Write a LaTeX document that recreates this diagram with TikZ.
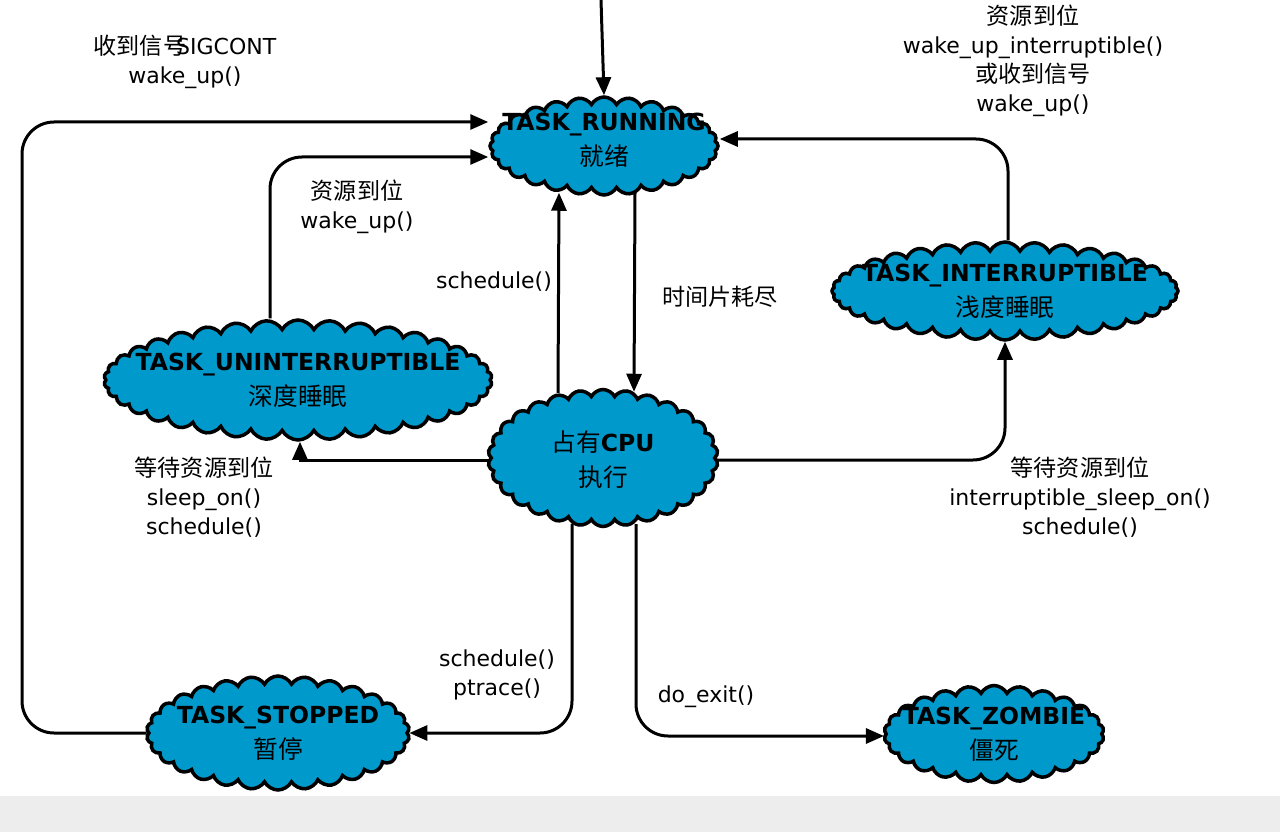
\documentclass[tikz,border=0pt]{standalone}
\usepackage{fontspec}
\setmainfont{DejaVu Sans}
\newfontfamily\cjk[Scale=1.05]{Noto Sans CJK SC}
\usetikzlibrary{arrows.meta, shapes.symbols}
\definecolor{stateblue}{RGB}{0,153,204}
\newcommand{\zh}[1]{{\cjk\mdseries #1}}

\begin{document}
\begin{tikzpicture}[x=1pt, y=-1pt, line width=3pt,
    state/.style={cloud, draw, fill=stateblue, line width=3.5pt,
        cloud ignores aspect, cloud puff arc=125, inner sep=0pt},
    statename/.style={align=center, font=\fontsize{23.5}{35}\selectfont\bfseries},
    edgenote/.style={align=center, font=\fontsize{22}{29}\selectfont},
    arr/.style={-{Triangle[length=18pt,width=15pt]}, rounded corners=32pt}]
    \useasboundingbox (0,0) rectangle (1280,832);

    % Background strip
    \fill [black!7] (0,796) rectangle (1280,832);

    % States
    \node[state, minimum width=228pt, minimum height=98pt, cloud puffs=28,
        label={[statename, yshift=6pt]center:{TASK\_RUNNING\\\zh{就绪}}}] (run) at (604,146) {};
    \node[state, minimum width=346pt, minimum height=98pt, cloud puffs=36,
        label={[statename]center:{TASK\_INTERRUPTIBLE\\\zh{浅度睡眠}}}] (intr) at (1005,291) {};
    \node[state, minimum width=388pt, minimum height=120pt, cloud puffs=38,
        label={[statename]center:{TASK\_UNINTERRUPTIBLE\\\zh{深度睡眠}}}] (unin) at (298,380) {};
    \node[state, minimum width=230pt, minimum height=137pt, cloud puffs=30,
        label={[statename, yshift=-2pt]center:{\zh{占有}CPU\\\zh{执行}}}] (cpu) at (603,458) {};
    \node[state, minimum width=263pt, minimum height=114pt, cloud puffs=30,
        label={[statename]center:{TASK\_STOPPED\\\zh{暂停}}}] (stop) at (278,733) {};
    \node[state, minimum width=220pt, minimum height=97pt, cloud puffs=26,
        label={[statename]center:{TASK\_ZOMBIE\\\zh{僵死}}}] (zomb) at (994,734) {};

    % Transitions
    \coordinate (entry) at (601,0);
    \draw[arr] (entry) -- (run.north);
    \draw[arr] (stop.west) -| (22,122) -- ([yshift=24pt]run.west);
    \draw[arr] ([xshift=-28pt]unin.north) |- ([yshift=-11pt]run.west);
    \draw[arr] ([xshift=-45pt,yshift=-5pt]cpu.north) -- ([xshift=-45pt,yshift=4pt]run.south);
    \draw[arr] ([xshift=31pt,yshift=4pt]run.south) -- ([xshift=31pt,yshift=-4pt]cpu.north);
    \draw[arr, sharp corners] ([yshift=-2pt]cpu.west) -| ([xshift=2pt]unin.south);
    \draw[arr] ([yshift=-2pt]cpu.east) -| (intr.south);
    \draw[arr] ([xshift=3pt]intr.north) |- ([yshift=7pt]run.east);
    \draw[arr] ([xshift=-31pt,yshift=4pt]cpu.south) |- (stop.east);
    \draw[arr] ([xshift=33pt,yshift=4pt]cpu.south) |- ([yshift=-2pt]zomb.west);

    % Transition labels
    \node[edgenote] (sigcont) at (185,62) {\zh{收到信号}\kern-10pt SIGCONT\\wake\_up()};
    \node[edgenote] (wakeunin) at (357,207) {\zh{资源到位}\\wake\_up()};
    \node[edgenote] (sched) at (494,282) {schedule()};
    \node[edgenote] (slice) at (720,297) {\zh{时间片耗尽}};
    \node[edgenote] (sleepunin) at (204,497) {\zh{等待资源到位}\\sleep\_on()\\schedule()};
    \node[edgenote] (sleepintr) at (1080,497) {\zh{等待资源到位}\\interruptible\_sleep\_on()\\schedule()};
    \node[edgenote] (wakeintr) at (1033,61) {\zh{资源到位}\\wake\_up\_interruptible()\\\zh{或收到信号}\\wake\_up()};
    \node[edgenote] (ptrace) at (497,675) {schedule()\\ptrace()};
    \node[edgenote] (exit) at (706,697) {do\_exit()};
\end{tikzpicture}
\end{document}
